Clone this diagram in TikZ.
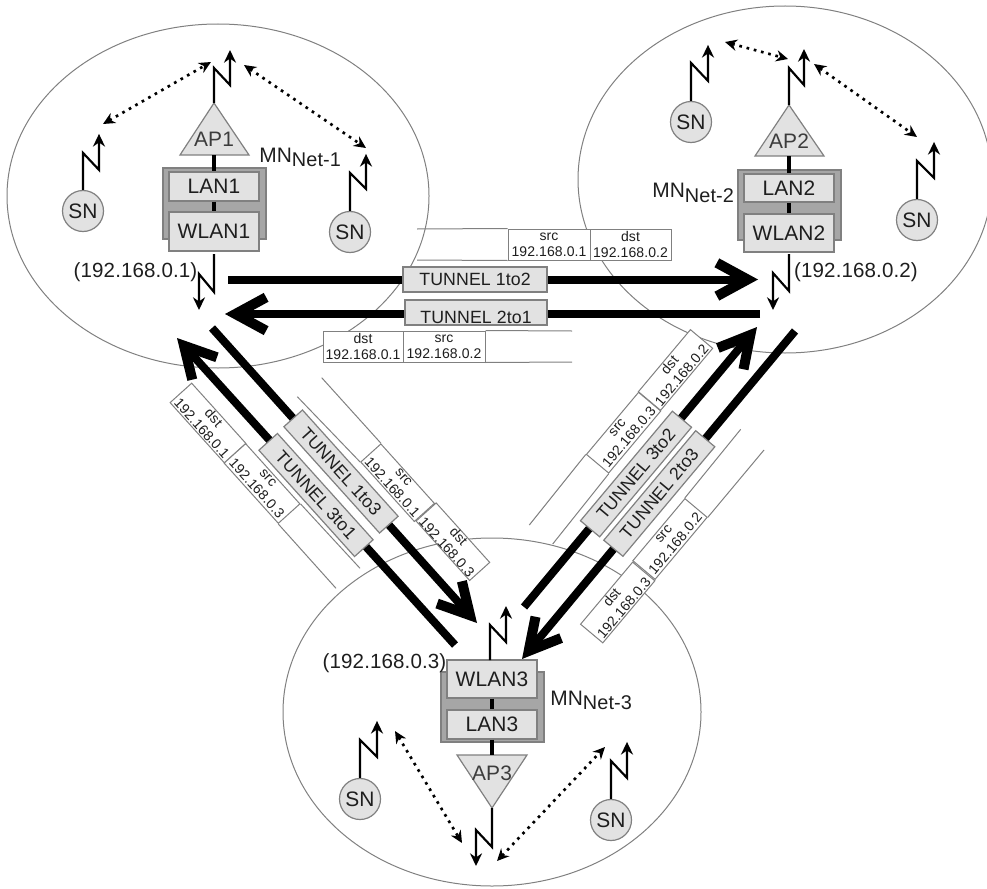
\documentclass[tikz,border=0pt]{standalone}
\usepackage{fontspec}
\setmainfont[Kerning=Off,LetterSpace=0.6]{Liberation Sans}
\usetikzlibrary{arrows.meta}
\definecolor{ln}{HTML}{808080}
\definecolor{lt}{HTML}{E2E2E2}
\definecolor{gb}{HTML}{A6A6A6}
\definecolor{tx}{HTML}{1E1E1E}
\definecolor{txap}{HTML}{3C3C3C}
\newcommand\mnsub[1]{MN\raisebox{-3.4pt}{\fontsize{14.9}{16}\selectfont Net-#1}}
\tikzset{
  wh/.style 2 args={minimum width=#1*0.75pt,minimum height=#2*0.75pt},
  cloud/.style={draw=ln,line width=0.75pt},
  mainfont/.style={font=\fontsize{15.7}{18}\selectfont,text=tx},
  mnnode/.style={mainfont,inner sep=0pt,anchor=base west},
  ipnode/.style={font=\fontsize{15.4}{18}\selectfont,text=tx,inner sep=0pt,anchor=base},
  unit/.style={draw=ln,line width=0.9pt,fill=gb,inner sep=0pt},
  iface/.style={draw=ln,line width=0.9pt,fill=lt,inner sep=0pt,mainfont},
  tri/.style={draw=ln,line width=0.9pt,fill=lt},
  aplabel/.style={mainfont,text=txap,inner sep=0pt},
  sn/.style={circle,draw=ln,line width=0.9pt,fill=lt,inner sep=0pt,minimum size=41*0.75pt,mainfont},
  link/.style={line width=3.4pt,black},
  antenna/.style={line width=1.6pt,black,miter limit=10,-{Stealth[length=9.5pt,width=9pt]}},
  wifi/.style={line width=2pt,black,dash pattern=on 2pt off 3.6pt,{Stealth[length=9pt,width=8.5pt]}-{Stealth[length=9pt,width=8.5pt]}},
  tun/.style={line width=6pt,black,-{Straight Barb[length=23pt,width=25pt,line width=7.5pt]}},
  tunnelbox/.style={draw=ln,line width=0.9pt,fill=lt,inner sep=0pt,minimum width=143*0.75pt,minimum height=25*0.75pt,font=\fontsize{13.3}{15}\selectfont,text=tx},
  tunneltext/.style={font=\fontsize{13.3}{15}\selectfont,text=tx,inner sep=0pt},
  hdr/.style={draw=ln,line width=0.75pt,fill=white,inner sep=0pt,minimum width=81*0.75pt,minimum height=29*0.75pt,font=\fontsize{10.5}{12}\selectfont,text=tx,align=center},
  rail/.style={draw=ln,line width=0.75pt},
}
\begin{document}
\begin{tikzpicture}[x=0.75pt,y=-0.75pt]
\useasboundingbox (0,0) rectangle (987,888);
% networks
\draw[cloud] (218,196) ellipse [x radius=211,y radius=172];
\draw[cloud] (785,179.5) ellipse [x radius=207,y radius=173.5];
\draw[cloud] (492,712) ellipse [x radius=209,y radius=174];

% free ends of the connectors
\coordinate (a12) at (228,279.5); \coordinate (b12) at (758,279.5);
\coordinate (a21) at (760,314);   \coordinate (b21) at (225,314);
\coordinate (a13) at (212,328);   \coordinate (b13) at (477,623);
\coordinate (a31) at (455,645);   \coordinate (b31) at (177,338);
\coordinate (a32) at (524,607);   \coordinate (b32) at (757,327);
\coordinate (a23) at (795,331);   \coordinate (b23) at (522,659);

% tunnels
\draw[tun] (a12) -- (b12);
\draw[tun] (a21) -- (b21);
\draw[tun] (a13) -- (b13);
\draw[tun] (a31) -- (b31);
\draw[tun] (a32) -- (b32);
\draw[tun] (a23) -- (b23);

\node[tunnelbox,wh={144}{25}] (t12) at (475,279.5) {\raisebox{-1.5pt}{TUNNEL 1to2}};
\node[tunnelbox,wh={142}{25}] (t21) at (476,312.5) {};
\node[tunneltext] (t21l) at (476,317) {TUNNEL 2to1};
\node[tunnelbox,rotate=-48] (t13) at (341,471.5) {TUNNEL 1to3};
\node[tunnelbox,rotate=-48] (t31) at (316,495) {TUNNEL 3to1};
\node[tunnelbox,rotate=50] (t32) at (636,474) {TUNNEL 3to2};
\node[tunnelbox,rotate=50] (t23) at (659.3,493.5) {TUNNEL 2to3};

% header tables
\node[hdr,wh={82}{31}] (s12) at (549,244.5) {src\\192.168.0.1};
\node[hdr,wh={81}{31}] (d12) at (630.5,244.5) {dst\\192.168.0.2};
\coordinate (r12a) at (417,229); \coordinate (r12b) at (417,260);
\draw[rail] (r12a) -- (s12.north west);
\draw[rail] (r12b) -- (s12.south west);

\node[hdr,wh={80}{31}] (d21) at (363,346.5) {dst\\192.168.0.1};
\node[hdr,wh={82}{31}] (s21) at (444,346.5) {src\\192.168.0.2};
\coordinate (r21a) at (572,331); \coordinate (r21b) at (572,362);
\draw[rail] (s21.north east) -- (r21a);
\draw[rail] (s21.south east) -- (r21b);

\node[hdr,rotate=-48,wh={80}{27}] (s13) at (397.6,482.7) {src\\192.168.0.1};
\node[hdr,rotate=-48,wh={80}{27}] (d13) at (452.9,541.7) {dst\\192.168.0.3};
\coordinate (r13a) at (321.7,377.7); \coordinate (r13b) at (297.3,396.7);
\draw[rail] (r13a) -- (s13.north west);
\draw[rail] (r13b) -- (s13.south west);

\node[hdr,rotate=-48] (d31) at (208,423) {dst\\192.168.0.1};
\node[hdr,rotate=-48] (s31) at (262,483.5) {src\\192.168.0.3};
\coordinate (r31a) at (360,568.3); \coordinate (r31b) at (336,588.3);
\draw[rail] (s31.north east) -- (r31a);
\draw[rail] (s31.south east) -- (r31b);

\node[hdr,rotate=50] (d32) at (675.5,370) {dst\\192.168.0.2};
\node[hdr,rotate=50] (s32) at (623.6,432.7) {src\\192.168.0.3};
\coordinate (r32a) at (529.3,525); \coordinate (r32b) at (552.7,544);
\draw[rail] (s32.north west) -- (r32a);
\draw[rail] (s32.south west) -- (r32b);

\node[hdr,rotate=50] (s23) at (670,539) {src\\192.168.0.2};
\node[hdr,rotate=50] (d23) at (617.7,602.5) {dst\\192.168.0.3};
\coordinate (r23a) at (740.7,429.3); \coordinate (r23b) at (764,450);
\draw[rail] (s23.north east) -- (r23a);
\draw[rail] (s23.south east) -- (r23b);

% --- network 1
\node[unit,wh={103}{71}] (mn1) at (214.5,203.5) {};
\coordinate (ap1t) at (214,103); \coordinate (ap1l) at (180,155); \coordinate (ap1r) at (249,155);
\coordinate (ap1b) at (214,155);
\draw[tri] (ap1l) -- (ap1t) -- (ap1r) -- cycle;
\node[aplabel] (ap1) at (214,139) {AP1};
\node[iface,wh={90}{29}] (lan1) at (214,186.5) {LAN1};
\node[iface,wh={90}{39}] (wlan1) at (214,231.5) {WLAN1};
\draw[link] (ap1b) -- (lan1.north);
\draw[link] (lan1.south) -- (wlan1.north);
\draw[antenna] (ap1t) -- ++(0,-35) -- ++(16,17) -- ++(0,-35);
\coordinate (w1) at (214,254);
\draw[antenna] (w1) -- ++(0,38) -- ++(-15,-18) -- ++(0,36);
\node[sn] (sn1a) at (83,211) {SN};
\node[sn] (sn1b) at (350,232) {SN};
\draw[antenna] (sn1a.north) -- ++(0,-37) -- ++(16,17) -- ++(0,-36);
\draw[antenna] (sn1b.north) -- ++(0,-38) -- ++(16,16) -- ++(0,-35);
\coordinate (d1a) at (103,124); \coordinate (d1b) at (211,62);
\coordinate (d1c) at (244,65);  \coordinate (d1d) at (366,148);
\draw[wifi] (d1a) -- (d1b);
\draw[wifi] (d1c) -- (d1d);
\node[mnnode] (mnl1) at (259,162) {\mnsub{1}};
\node[ipnode] (ip1) at (135.5,277) {(192.168.0.1)};

% --- network 2
\node[unit,wh={103}{70}] (mn2) at (789.5,205) {};
\coordinate (ap2t) at (789,105); \coordinate (ap2l) at (755,156); \coordinate (ap2r) at (824,156);
\coordinate (ap2b) at (789,156);
\draw[tri] (ap2l) -- (ap2t) -- (ap2r) -- cycle;
\node[aplabel] (ap2) at (789,141) {AP2};
\node[iface,wh={90}{28}] (lan2) at (789,188) {LAN2};
\node[iface,wh={90}{38}] (wlan2) at (789,233) {WLAN2};
\draw[link] (ap2b) -- (lan2.north);
\draw[link] (lan2.south) -- (wlan2.north);
\draw[antenna] (ap2t) -- ++(0,-37) -- ++(15,17) -- ++(0,-36);
\coordinate (w2) at (789,254);
\draw[antenna] (w2) -- ++(0,37) -- ++(-16,-18) -- ++(0,37);
\node[sn] (sn2a) at (691,122) {SN};
\node[sn] (sn2b) at (917,220) {SN};
\draw[antenna] (sn2a.north) -- ++(0,-38) -- ++(17,18) -- ++(0,-36);
\draw[antenna] (sn2b.north) -- ++(0,-38) -- ++(17,17) -- ++(0,-36);
\coordinate (d2a) at (725,42); \coordinate (d2b) at (788,59);
\coordinate (d2c) at (814,64); \coordinate (d2d) at (917,137);
\draw[wifi] (d2a) -- (d2b);
\draw[wifi] (d2c) -- (d2d);
\node[mnnode] (mnl2) at (652,197.7) {\mnsub{2}};
\node[ipnode] (ip2) at (856,277) {(192.168.0.2)};

% --- network 3
\node[unit,wh={103}{70}] (mn3) at (492.5,707) {};
\coordinate (ap3t) at (492,808); \coordinate (ap3l) at (457,755); \coordinate (ap3r) at (527,755);
\coordinate (ap3b) at (492,755);
\draw[tri] (ap3l) -- (ap3t) -- (ap3r) -- cycle;
\node[aplabel] (ap3) at (492,773) {AP3};
\node[iface,wh={90}{38}] (wlan3) at (492,679) {WLAN3};
\node[iface,wh={90}{29}] (lan3) at (492,724.5) {LAN3};
\draw[link] (wlan3.south) -- (lan3.north);
\draw[link] (lan3.south) -- (ap3b);
\coordinate (w3) at (490,660);
\draw[antenna] (w3) -- ++(0,-35) -- ++(16,17) -- ++(0,-36);
\draw[antenna] (ap3t) -- ++(0,39) -- ++(-16,-17) -- ++(0,36);
\node[sn] (sn3a) at (360,799) {SN};
\node[sn] (sn3b) at (611,820) {SN};
\draw[antenna] (sn3a.north) -- ++(0,-38) -- ++(17,17) -- ++(0,-36);
\draw[antenna] (sn3b.north) -- ++(0,-38) -- ++(16,17) -- ++(0,-36);
\coordinate (d3a) at (395,731); \coordinate (d3b) at (462,843);
\coordinate (d3c) at (497,861); \coordinate (d3d) at (605,747);
\draw[wifi] (d3a) -- (d3b);
\draw[wifi] (d3c) -- (d3d);
\node[mnnode] (mnl3) at (550,705) {\mnsub{3}};
\node[ipnode] (ip3) at (384.5,668) {(192.168.0.3)};
\end{tikzpicture}
\end{document}
